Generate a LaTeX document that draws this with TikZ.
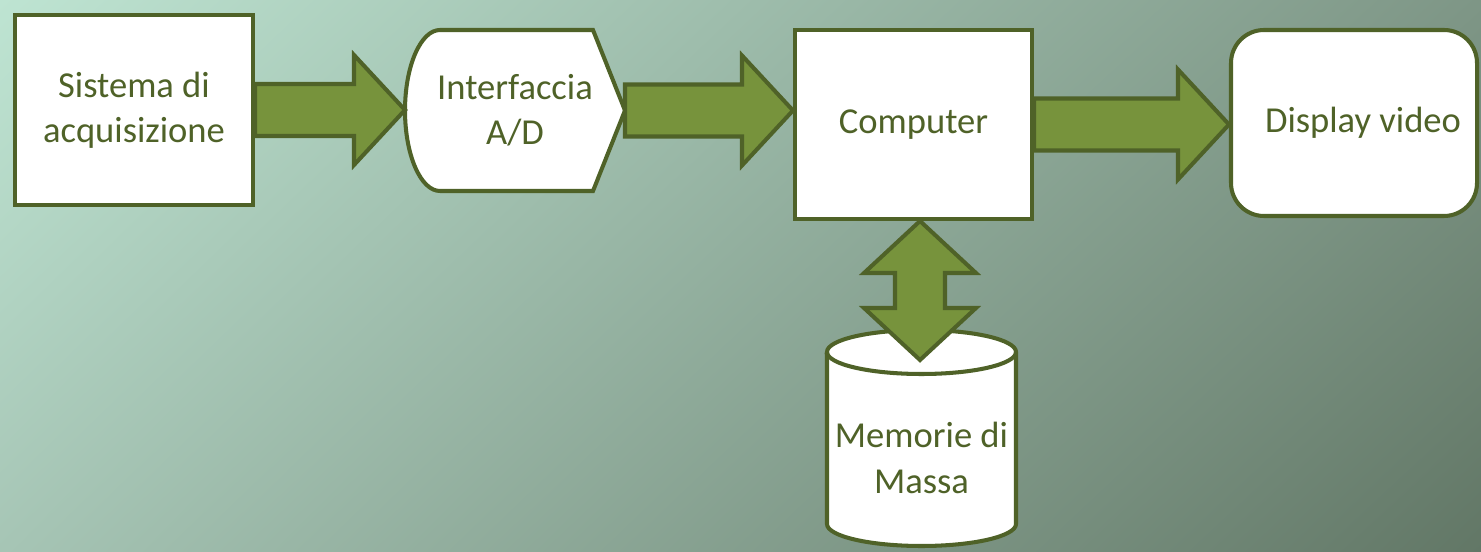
\documentclass[tikz,border=0pt]{standalone}
\usepackage{fontspec}
\setmainfont{Carlito}
\usetikzlibrary{positioning}
\usetikzlibrary{calc}
\usetikzlibrary{backgrounds}
\usetikzlibrary{shadings}

\definecolor{bordo}{HTML}{4F6228}
\definecolor{verdefreccia}{HTML}{77933C}
\definecolor{sfondoA}{HTML}{BEE4D2}
\definecolor{sfondoB}{HTML}{7E9686}
\definecolor{sfondoC}{HTML}{A6C5B5}
\definecolor{sfondoD}{HTML}{627766}

\newcommand{\testo}{\fontsize{20.8}{25.8}\selectfont}

\tikzset{
  contorno/.style={draw=bordo, line width=2.3pt, fill=white},
  blocco/.style={contorno, text=bordo, align=center, font=\testo},
  etichetta/.style={text=bordo, align=center, font=\testo, outer sep=0pt},
  frecciablocco/.style={draw=bordo, line width=2.3pt, fill=verdefreccia, line join=miter}
}

% freccia larga orizzontale
\newcommand{\frecciaor}[2]{%
  \draw[frecciablocco] let \p1=(#1), \p2=(#2) in
    (\x1,{\y1+0.52cm}) -- ({\x2-1.02cm},{\y1+0.52cm}) -- ({\x2-1.02cm},{\y1+1.1cm})
    -- (\x2,\y1) -- ({\x2-1.02cm},{\y1-1.1cm}) -- ({\x2-1.02cm},{\y1-0.52cm})
    -- (\x1,{\y1-0.52cm}) -- cycle;}

% freccia larga doppia verticale
\newcommand{\frecciadoppia}[2]{%
  \draw[frecciablocco] let \p1=(#1), \p2=(#2) in
    (\x1,\y1) -- ({\x1+1.12cm},{\y1-1.04cm}) -- ({\x1+0.5cm},{\y1-1.04cm})
    -- ({\x1+0.5cm},{\y2+1.04cm}) -- ({\x1+1.12cm},{\y2+1.04cm}) -- (\x1,\y2)
    -- ({\x1-1.12cm},{\y2+1.04cm}) -- ({\x1-0.5cm},{\y2+1.04cm})
    -- ({\x1-0.5cm},{\y1-1.04cm}) -- ({\x1-1.12cm},{\y1-1.04cm}) -- cycle;}

\begin{document}
\begin{tikzpicture}
    \useasboundingbox (0,0) rectangle (29.62,-11.04);

    \node[blocco, minimum width=4.76cm, minimum height=3.80cm] (sist) at (2.68,-2.20) {Sistema di\\acquisizione};
    \node[etichetta, minimum width=4.40cm, minimum height=3.22cm] (inter) at (10.30,-2.21) {Interfaccia\\A/D};
    \node[blocco, minimum width=4.74cm, minimum height=3.78cm] (comp) at (18.27,-2.49) {Computer};
    \node[blocco, minimum width=4.92cm, minimum height=3.72cm, rounded corners=0.66cm] (disp) at (27.08,-2.46) {\hspace*{0.36cm}Display video};

    \coordinate (memc) at (18.43,-8.76);
    \node[etichetta] (mem) at (18.43,-9.16) {Memorie di\\Massa};
    \coordinate (memtop) at (18.40,-7.20);
    \coordinate (compbasso) at (comp.south -| memtop);

    \begin{scope}[on background layer]
        \shade[upper left=sfondoA, upper right=sfondoB, lower left=sfondoC, lower right=sfondoD]
            (0,0) rectangle (29.62,-11.04);
        \draw[contorno] ([xshift=0.7cm]inter.north west) -- ([xshift=-0.64cm]inter.north east)
            -- (inter.east) -- ([xshift=-0.64cm]inter.south east) -- ([xshift=0.7cm]inter.south west)
            arc[start angle=270, end angle=90, x radius=0.7cm, y radius=1.61cm] -- cycle;
        \draw[contorno] ($(memc)+(-1.89,1.72)$) -- ($(memc)+(-1.89,-1.72)$)
            arc[start angle=180, end angle=360, x radius=1.89cm, y radius=0.44cm]
            -- ($(memc)+(1.89,1.72)$)
            arc[start angle=0, end angle=180, x radius=1.89cm, y radius=0.44cm] -- cycle;
        \draw[contorno, fill=none] ($(memc)+(-1.89,1.72)$)
            arc[start angle=180, end angle=360, x radius=1.89cm, y radius=0.44cm];
    \end{scope}

    \frecciaor{sist.east}{inter.west}
    \frecciaor{inter.east}{comp.west |- inter.east}
    \frecciaor{comp.east}{disp.west |- comp.east}
    \frecciadoppia{compbasso}{memtop}
\end{tikzpicture}
\end{document}
